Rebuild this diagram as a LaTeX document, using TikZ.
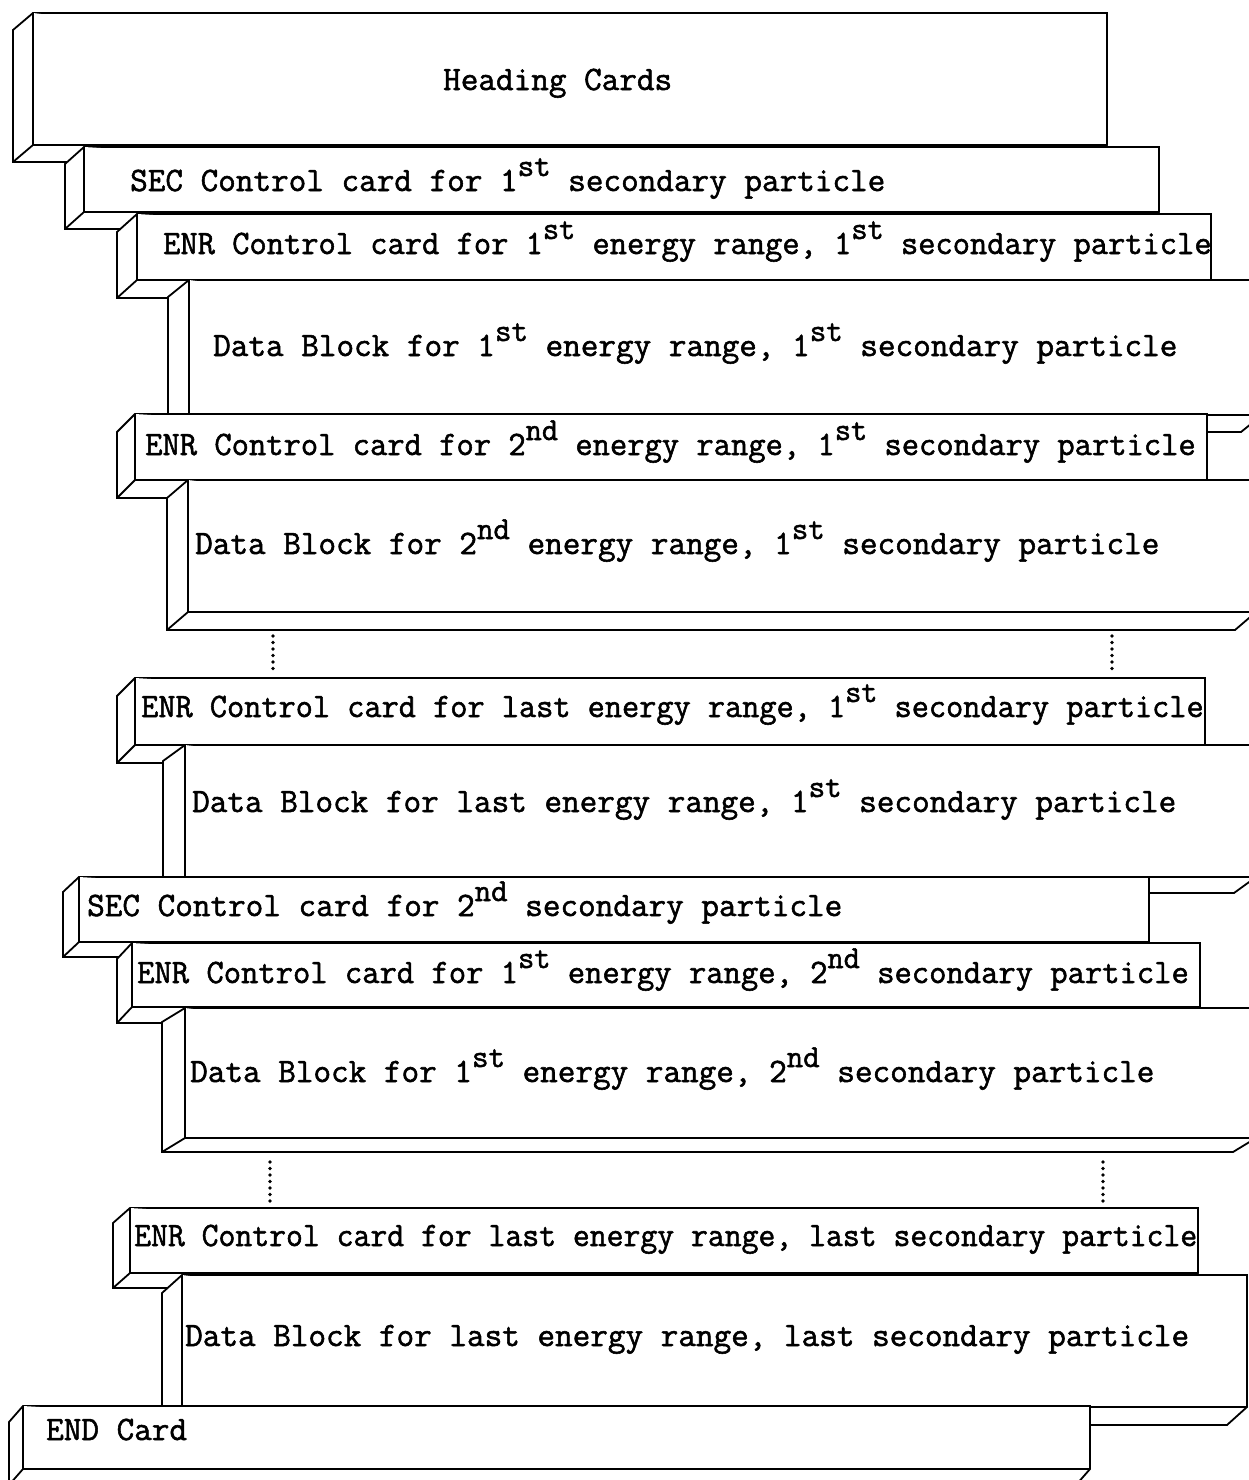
\documentclass[tikz,border=0pt]{standalone}
\usepackage{fontspec}
\newfontfamily\typer{Latin Modern Mono}[FakeBold=1.6]
\usetikzlibrary{calc}

% raised ordinal suffix, typed at nearly full size as on a typewriter
\newcommand\sups[1]{\raisebox{15pt}{\fontsize{32}{32}\selectfont #1}}
% control-card lines are typed with a slightly tighter pitch
\newcommand\tight[2]{\scalebox{#1}[1]{#2}}

% a card of the deck: front face plus its thickness, seen from below left
% #1 name, #2 x1, #3 y1, #4 x2, #5 y2, #6 depth x, #7 depth y
\newcommand\deckcard[7]{%
  \coordinate (#1-nw) at (#2,#3);
  \coordinate (#1-ne) at (#4,#3);
  \coordinate (#1-se) at (#4,#5);
  \coordinate (#1-sw) at (#2,#5);
  \coordinate (#1-bnw) at ({#2-#6},{#3+#7});
  \coordinate (#1-bsw) at ({#2-#6},{#5+#7});
  \coordinate (#1-bse) at ({#4-#6},{#5+#7});
  \filldraw[cardline] (#1-nw) -- (#1-ne) -- (#1-se) -- (#1-bse) -- (#1-bsw)
    -- (#1-bnw) -- cycle;
  \draw[cardline] (#1-nw) -- (#1-sw) -- (#1-se);
  \draw[cardline] (#1-sw) -- (#1-bsw);
}

\begin{document}
\begin{tikzpicture}[x=1pt,y=-1pt,
  cardline/.style={line width=1.8pt, fill=white, line join=miter},
  lbl/.style={anchor=base west, inner sep=0pt, font=\typer\fontsize{34.2}{34.2}\selectfont},
  dots/.style={line width=3.6pt, line cap=round, dash pattern=on 0pt off 6.5pt}]
\useasboundingbox (0,0) rectangle (1249,1480);

\deckcard{head}{33}{13}{1107}{145}{20}{17}
\node[lbl] (thead) at (443,90) {Heading Cards};

\deckcard{secA}{84}{147}{1159}{212}{19}{17}
\node[lbl] (tsecA) at (130,191) {SEC Control card for 1\sups{st} secondary particle};

\deckcard{enrA}{137}{214}{1211}{280}{20}{18}
\node[lbl] (tenrA) at (163,254) {\tight{0.98}{ENR Control card for 1\sups{st} energy range, 1\sups{st} secondary particle}};

\deckcard{dbA}{189}{280}{1262}{415}{21}{17}
\node[lbl] (tdbA) at (213,356) {Data Block for 1\sups{st} energy range, 1\sups{st} secondary particle};

\deckcard{enrB}{135}{414}{1207}{480}{18}{18}
\node[lbl] (tenrB) at (145,455) {\tight{0.982}{ENR Control card for 2\sups{nd} energy range, 1\sups{st} secondary particle}};

\deckcard{dbB}{188}{480}{1256}{612}{21}{18}
\node[lbl] (tdbB) at (195,554) {Data Block for 2\sups{nd} energy range, 1\sups{st} secondary particle};

\coordinate (gapAl) at (273,636);
\coordinate (gapAl2) at (273,672);
\coordinate (gapAr) at (1112,636);
\coordinate (gapAr2) at (1112,674);
\draw[dots] (gapAl) -- (gapAl2);
\draw[dots] (gapAr) -- (gapAr2);

\deckcard{enrC}{135}{678}{1205}{745}{18}{18}
\node[lbl] (tenrC) at (141,717) {\tight{0.975}{ENR Control card for last energy range, 1\sups{st} secondary particle}};

\deckcard{dbC}{185}{745}{1256}{877}{22}{16}
\node[lbl] (tdbC) at (192,812) {Data Block for last energy range, 1\sups{st} secondary particle};

\deckcard{secB}{79}{877}{1149}{942}{16}{15}
\node[lbl] (tsecB) at (87,916) {SEC Control card for 2\sups{nd} secondary particle};

\deckcard{enrD}{132}{943}{1200}{1007}{15}{16}
\node[lbl] (tenrD) at (137,983) {\tight{0.983}{ENR Control card for 1\sups{st} energy range, 2\sups{nd} secondary particle}};

\deckcard{dbD}{185}{1008}{1256}{1138}{23}{14}
\node[lbl] (tdbD) at (190,1082) {Data Block for 1\sups{st} energy range, 2\sups{nd} secondary particle};

\coordinate (gapBl) at (270,1162);
\coordinate (gapBl2) at (270,1201);
\coordinate (gapBr) at (1103,1162);
\coordinate (gapBr2) at (1103,1202);
\draw[dots] (gapBl) -- (gapBl2);
\draw[dots] (gapBr) -- (gapBr2);

\deckcard{enrE}{130}{1208}{1198}{1273}{17}{15}
\node[lbl] (tenrE) at (134,1246) {\tight{0.958}{ENR Control card for last energy range, last secondary particle}};

\deckcard{dbE}{182}{1275}{1247}{1407}{20}{18}
\node[lbl] (tdbE) at (185,1346) {Data Block for last energy range, last secondary particle};

\deckcard{endc}{23}{1406}{1090}{1469}{14}{16}
\node[lbl] (tend) at (46,1440) {END Card};
\end{tikzpicture}
\end{document}
